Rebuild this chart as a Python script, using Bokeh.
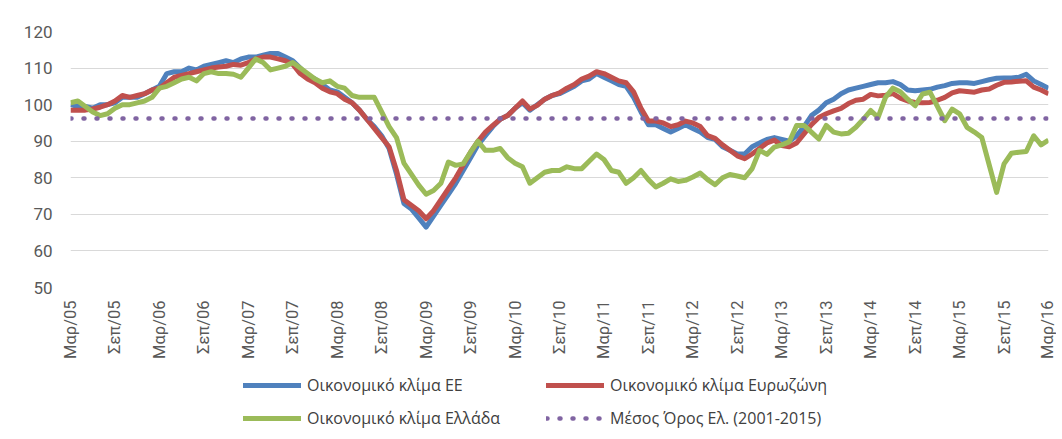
from bokeh.plotting import figure
from bokeh.layouts import column
from bokeh.models import Range1d, FixedTicker, Legend, LegendItem
from bokeh.embed import file_html
from bokeh.resources import INLINE

# ---- data (monthly, Mar/05 .. Mar/16) ----
tick_labels = ["Μαρ/05", "Σεπ/05", "Μαρ/06", "Σεπ/06", "Μαρ/07", "Σεπ/07", "Μαρ/08", "Σεπ/08",
               "Μαρ/09", "Σεπ/09", "Μαρ/10", "Σεπ/10", "Μαρ/11", "Σεπ/11", "Μαρ/12", "Σεπ/12",
               "Μαρ/13", "Σεπ/13", "Μαρ/14", "Σεπ/14", "Μαρ/15", "Σεπ/15", "Μαρ/16"]

eu = [100, 99.5, 99.5, 99, 100, 100, 100.5, 102, 102, 102,
      103, 104, 105, 108.5, 109, 109, 110, 109.5, 110.5, 111,
      111.5, 112, 111.5, 112.5, 113, 113, 113.5, 114, 114, 113,
      112, 110, 108, 107, 105.5, 104, 103.5, 102, 100.5, 98.5,
      96, 94, 91.5, 88, 81, 73, 71.5, 69, 66.5, 69.5,
      72.5, 75.5, 78.5, 82, 85.5, 89, 91.5, 94, 96, 97,
      99, 100.5, 98.5, 100, 101.5, 102.5, 103, 104, 105, 106.5,
      107, 108.5, 107.5, 106.5, 105.5, 105, 102, 98, 94.5, 94.5,
      93.5, 92.5, 93.5, 94.5, 93.5, 92.5, 91, 90.5, 88.5, 87.5,
      86.5, 86.5, 88.5, 89.5, 90.5, 91, 90.5, 90, 91.5, 94,
      97, 98.5, 100.5, 101.5, 103, 104, 104.5, 105, 105.5, 106,
      106, 106.3, 105.5, 104, 103.8, 104, 104.2, 104.8, 105.2, 105.8,
      106, 106, 105.8, 106.3, 106.8, 107.2, 107.3, 107.3, 107.5, 108.3,
      106.5, 105.5, 104.5]

ez = [98.5, 98.5, 98.5, 98.8, 99.3, 100, 101, 102.5, 102, 102.5,
      103, 104, 104.5, 106, 107.5, 108, 108.5, 109, 109.5, 110,
      110.3, 110.5, 111, 110.8, 111.5, 112.5, 113, 113, 112.5, 112,
      111, 108.5, 107, 106, 104.5, 103.5, 103, 101.5, 100.5, 98.5,
      96, 93.5, 91, 88.5, 82, 74, 72.5, 71, 68.8, 71,
      74, 77, 80, 83.5, 87, 90, 92.5, 94.3, 96, 97,
      99, 101, 98.8, 99.8, 101.5, 102.5, 103.2, 104.5, 105.5, 107,
      107.8, 109, 108.5, 107.5, 106.5, 106, 103.5, 99, 95.5, 95.5,
      95, 94, 94.5, 95.5, 95, 94, 91.5, 90.8, 89, 87.5,
      86, 85.2, 86.5, 88, 89.5, 90.3, 88.8, 88.5, 89.5, 92,
      94.5, 96.5, 97.5, 98.3, 99, 100.3, 101.2, 101.5, 102.8, 102.4,
      102.6, 103, 101.8, 101, 100.6, 100.5, 100.6, 101.2, 102, 103.2,
      103.8, 103.6, 103.4, 104, 104.3, 105.3, 106.1, 106.2, 106.4, 106.5,
      104.8, 104, 103]

gr = [100.5, 101, 99.5, 98, 97, 97.5, 99, 100, 100, 100.5,
      101, 102, 104.5, 105, 106, 107, 107.5, 106.5, 108.5, 109,
      108.5, 108.5, 108.3, 107.5, 110, 112.5, 111.5, 109.5, 110, 110.5,
      111.5, 110, 108.5, 107, 106, 106.5, 105, 104.5, 102.5, 102,
      102, 102, 98, 94, 91, 84, 81, 78, 75.5, 76.5,
      78.5, 84.3, 83.4, 83.8, 87, 90, 87.5, 87.5, 88, 85.5,
      84, 83, 78.5, 80, 81.5, 82, 82, 83, 82.5, 82.5,
      84.5, 86.5, 85, 82, 81.5, 78.5, 80, 82, 79.5, 77.5,
      78.5, 79.7, 79, 79.3, 80.2, 81.3, 79.5, 78.1, 80, 80.9,
      80.5, 80, 82.5, 87.5, 86.4, 88.4, 89, 89.8, 94.3, 94.3,
      92.5, 90.6, 94.3, 92.5, 92, 92.2, 93.8, 96, 98.4, 96.5,
      102, 104.5, 103.5, 101.5, 99.7, 102.9, 103.4, 99.5, 95.6, 98.8,
      97.5, 93.8, 92.5, 91, 83.5, 76, 83.8, 86.7, 87, 87.2,
      91.5, 89, 90.3]

avg_level = 96.2

months = list(range(len(eu)))
avg = [avg_level] * len(months)

series_names = ["Οικονομικό κλίμα ΕΕ", "Οικονομικό κλίμα Ευρωζώνη",
                "Οικονομικό κλίμα Ελλάδα", "Μέσος Όρος Ελ. (2001-2015)"]
series_colors = ["#4F81BD", "#C0504D", "#9BBB59", "#8064A2"]

FONT = "Roboto"
TXT = "#595959"

# ---------------- main chart ----------------
p = figure(frame_width=978, frame_height=256,
           min_border_left=70, min_border_right=8, min_border_top=31, min_border_bottom=75,
           x_range=Range1d(0, len(months) - 1), y_range=Range1d(50, 120),
           output_backend="svg", toolbar_location=None)
p.outline_line_color = None
p.background_fill_color = "white"
p.border_fill_color = "white"

p.yaxis.ticker = FixedTicker(ticks=[50, 60, 70, 80, 90, 100, 110, 120])
p.yaxis.axis_line_color = None
p.yaxis.major_tick_line_color = None
p.yaxis.minor_tick_line_color = None
p.yaxis.major_tick_out = 0
p.yaxis.major_label_standoff = 18
p.yaxis.major_label_text_font = FONT
p.yaxis.major_label_text_font_size = "17px"
p.yaxis.major_label_text_color = TXT

tick_pos = list(range(0, len(months), 6))
p.xaxis.ticker = FixedTicker(ticks=tick_pos)
p.xaxis.major_label_overrides = {t: lab for t, lab in zip(tick_pos, tick_labels)}
p.xaxis.major_label_orientation = 3.14159265 / 2
p.xaxis.axis_line_color = None
p.xaxis.major_tick_line_color = None
p.xaxis.minor_tick_line_color = None
p.xaxis.major_tick_out = 0
p.xaxis.major_label_standoff = 13
p.xaxis.major_label_text_font = FONT
p.xaxis.major_label_text_font_size = "16.5px"
p.xaxis.major_label_text_color = TXT

p.xgrid.grid_line_color = None
p.ygrid.grid_line_color = "#d9d9d9"
p.ygrid.grid_line_width = 1

p.line(months, eu, line_color=series_colors[0], line_width=5, line_join="round")
p.line(months, ez, line_color=series_colors[1], line_width=5, line_join="round")
p.line(months, gr, line_color=series_colors[2], line_width=5, line_join="round")
p.line(months, avg, line_color=series_colors[3], line_width=4.5, line_dash="1 12", line_cap="round")

# ---------------- legend strip (series drawn out of view, legend only) ----------------
leg_h = 439 - (31 + 256 + 75)
q = figure(frame_width=1056, frame_height=leg_h, min_border=0,
           x_range=Range1d(-10, -9), y_range=Range1d(0, 1),
           x_axis_type=None, y_axis_type=None,
           output_backend="svg", toolbar_location=None)
q.outline_line_color = None
q.xgrid.visible = False
q.ygrid.visible = False

l_eu = q.line(months, eu, line_color=series_colors[0], line_width=5, line_cap="round")
l_ez = q.line(months, ez, line_color=series_colors[1], line_width=5, line_cap="round")
l_gr = q.line(months, gr, line_color=series_colors[2], line_width=5, line_cap="round")
l_avg = q.line(months, avg, line_color=series_colors[3], line_width=4.5, line_dash="1 12", line_cap="round")

legend = Legend(items=[LegendItem(label=series_names[0], renderers=[l_eu]),
                       LegendItem(label=series_names[1], renderers=[l_ez]),
                       LegendItem(label=series_names[2], renderers=[l_gr]),
                       LegendItem(label=series_names[3], renderers=[l_avg])],
                location=(243, 6), orientation="horizontal", ncols=2,
                glyph_width=58, glyph_height=30, label_height=30, label_width=236,
                label_standoff=6, spacing=3, padding=0, margin=0,
                border_line_color=None, background_fill_alpha=0,
                label_text_font="Open Sans", label_text_font_size="16px", label_text_color="#404040")
q.add_layout(legend, "center")

layout = column(p, q, spacing=0)
open("out.html", "w").write(file_html(layout, INLINE))
